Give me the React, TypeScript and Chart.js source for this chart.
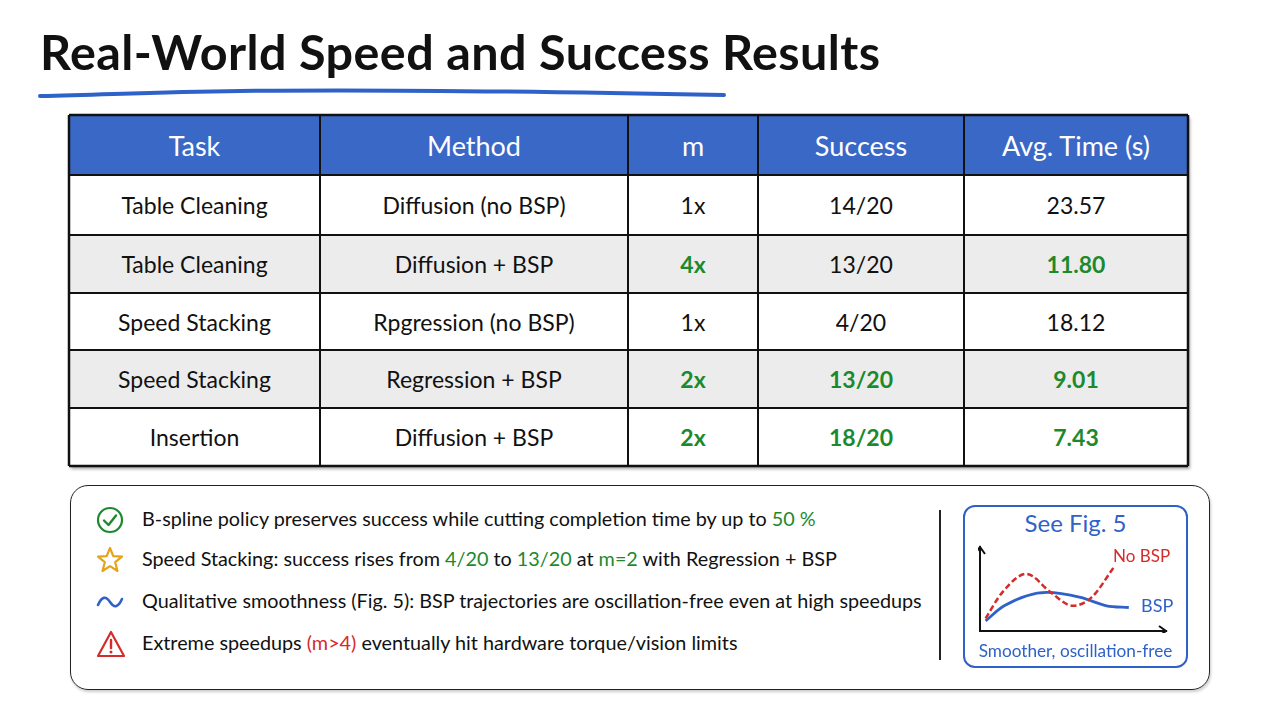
import React, { useEffect, useRef } from "react";
import { Chart, registerables } from "chart.js";

Chart.register(...registerables);

// ---- data ----
const columns = ["Task", "Method", "m", "Success", "Avg. Time (s)"];
const tasks = ["Table Cleaning", "Table Cleaning", "Speed Stacking", "Speed Stacking", "Insertion"];
const methods = ["Diffusion (no BSP)", "Diffusion + BSP", "Rpgression (no BSP)", "Regression + BSP", "Diffusion + BSP"];
const speedups = ["1x", "4x", "1x", "2x", "2x"];
const successes = ["14/20", "13/20", "4/20", "13/20", "18/20"];
const avgTimes = ["23.57", "11.80", "18.12", "9.01", "7.43"];
const speedupGood = [false, true, false, true, true];
const successGood = [false, false, false, true, true];
const timeGood = [false, true, false, true, true];

const bspX = [0.3, 1.3, 3.6, 5.4, 6.8, 8.0];
const bspY = [1.2, 3.0, 4.6, 4.0, 3.0, 2.8];
const noBspX = [0.3, 1.2, 2.5, 3.8, 5.0, 6.0, 7.2];
const noBspY = [1.5, 4.6, 6.8, 4.6, 3.0, 4.0, 7.6];

const FONT = "Lato, 'Open Sans', sans-serif";
const BLUE = "#2f62c8";
const HEADER = "#3a68c6";
const GREEN = "#1c8a2c";
const RED = "#d42b2b";

const arrowPlugin = {
  id: "axisArrows",
  afterDraw(chart: any) {
    const { ctx, chartArea } = chart;
    const { left, right, top, bottom } = chartArea;
    ctx.save();
    ctx.strokeStyle = "#111";
    ctx.lineWidth = 2;
    ctx.beginPath();
    ctx.moveTo(left - 5, top + 7);
    ctx.lineTo(left, top);
    ctx.lineTo(left + 5, top + 7);
    ctx.moveTo(right - 7, bottom - 5);
    ctx.lineTo(right, bottom);
    ctx.lineTo(right - 7, bottom + 5);
    ctx.stroke();
    ctx.restore();
  },
};

function MiniChart() {
  const ref = useRef<HTMLCanvasElement>(null);
  useEffect(() => {
    if (!ref.current) return;
    const chart = new Chart(ref.current, {
      type: "line",
      data: {
        datasets: [
          {
            label: "No BSP",
            data: noBspX.map((x, i) => ({ x, y: noBspY[i] })),
            borderColor: "#d42b2b",
            borderWidth: 2.5,
            borderDash: [6, 3],
            pointRadius: 0,
            cubicInterpolationMode: "monotone",
            fill: false,
          },
          {
            label: "BSP",
            data: bspX.map((x, i) => ({ x, y: bspY[i] })),
            borderColor: "#2f62c8",
            borderWidth: 2.8,
            pointRadius: 0,
            cubicInterpolationMode: "monotone",
            fill: false,
          },
        ],
      },
      options: {
        animation: false,
        responsive: false,
        maintainAspectRatio: false,
        layout: { padding: { top: 2, right: 2, bottom: 2, left: 2 } },
        plugins: { legend: { display: false }, tooltip: { enabled: false } },
        scales: {
          x: {
            type: "linear",
            min: 0,
            max: 10,
            ticks: { display: false },
            grid: { display: false, drawTicks: false },
            border: { display: true, color: "#111", width: 2 },
          },
          y: {
            type: "linear",
            min: 0,
            max: 10,
            ticks: { display: false },
            grid: { display: false, drawTicks: false },
            border: { display: true, color: "#111", width: 2 },
          },
        },
      },
      plugins: [arrowPlugin],
    } as any);
    return () => chart.destroy();
  }, []);
  return (
    <canvas
      ref={ref}
      width={190}
      height={88}
      style={{ position: "absolute", left: 978, top: 545, width: 190, height: 88 }}
    />
  );
}

const colEdges = [69, 320, 628, 758, 964, 1188];
const rowEdges = [115, 175, 235, 293, 350, 408, 466];

function Icon({ kind }: { kind: string }) {
  if (kind === "check")
    return (
      <svg width="30" height="30" viewBox="0 0 30 30">
        <circle cx="15" cy="15" r="12" fill="none" stroke={GREEN} strokeWidth="2.2" />
        <path d="M9 15.5 L13.5 20 L21 10.5" fill="none" stroke={GREEN} strokeWidth="2.4" strokeLinecap="round" strokeLinejoin="round" />
      </svg>
    );
  if (kind === "star")
    return (
      <svg width="30" height="30" viewBox="0 0 30 30">
        <path
          d="M15 3 L18.3 11.2 L27 11.6 L20.2 17.2 L22.5 26 L15 21.1 L7.5 26 L9.8 17.2 L3 11.6 L11.7 11.2 Z"
          fill="none"
          stroke="#e5a21b"
          strokeWidth="2.2"
          strokeLinejoin="round"
        />
      </svg>
    );
  if (kind === "wave")
    return (
      <svg width="30" height="30" viewBox="0 0 30 30">
        <path d="M3 18 C7 9, 11 9, 15 15 C19 21, 23 21, 27 12" fill="none" stroke={BLUE} strokeWidth="2.6" strokeLinecap="round" />
      </svg>
    );
  return (
    <svg width="32" height="30" viewBox="0 0 32 30">
      <path d="M16 3 L29 27 L3 27 Z" fill="none" stroke={RED} strokeWidth="2.2" strokeLinejoin="round" />
      <path d="M16 11 L16 19" stroke={RED} strokeWidth="2.4" strokeLinecap="round" />
      <circle cx="16" cy="23" r="1.5" fill={RED} />
    </svg>
  );
}

const bulletIcons = ["check", "star", "wave", "warn"];
const bulletTops = [520, 560, 602, 644];
const BULLET_FS = 19.8;

export default function App() {
  useEffect(() => {
    document.body.style.margin = "0";
  }, []);

  const cellText = (text: string, good: boolean, x0: number, x1: number, y0: number, y1: number, key: string) => (
    <div
      key={key}
      style={{
        position: "absolute",
        left: x0,
        top: y0,
        width: x1 - x0,
        height: y1 - y0,
        display: "flex",
        alignItems: "center",
        justifyContent: "center",
        fontSize: 23,
        color: good ? GREEN : "#111",
        fontWeight: good ? 700 : 400,
        whiteSpace: "nowrap",
      }}
    >
      {text}
    </div>
  );

  const rows = tasks.map((t, i) => [
    { v: t, g: false },
    { v: methods[i], g: false },
    { v: speedups[i], g: speedupGood[i] },
    { v: successes[i], g: successGood[i] },
    { v: avgTimes[i], g: timeGood[i] },
  ]);

  const bulletStyle = (i: number): React.CSSProperties => ({
    position: "absolute",
    left: 142,
    top: bulletTops[i] - 14,
    fontSize: BULLET_FS,
    color: "#111",
    whiteSpace: "nowrap",
  });

  return (
    <div
      style={{
        position: "fixed",
        left: 0,
        top: 0,
        width: 1280,
        height: 720,
        background: "#fff",
        fontFamily: FONT,
        overflow: "hidden",
      }}
    >
      {/* title */}
      <div
        style={{
          position: "absolute",
          left: 40,
          top: 22,
          fontSize: 48.5,
          fontWeight: 700,
          color: "#111",
          whiteSpace: "nowrap",
          letterSpacing: 0.4,
        }}
      >
        Real-World Speed and Success Results
      </div>
      <svg style={{ position: "absolute", left: 0, top: 0 }} width="1280" height="120">
        <path
          d="M40 96 C120 94, 160 92, 240 91 C380 89, 520 91, 724 95"
          fill="none"
          stroke={BLUE}
          strokeWidth="4"
          strokeLinecap="round"
        />
      </svg>

      {/* table */}
      <div
        style={{
          position: "absolute",
          left: colEdges[0],
          top: rowEdges[0],
          width: colEdges[5] - colEdges[0],
          height: rowEdges[6] - rowEdges[0],
          boxShadow: "2px 3px 3px rgba(0,0,0,0.35)",
        }}
      />
      <div
        style={{
          position: "absolute",
          left: colEdges[0],
          top: rowEdges[0],
          width: colEdges[5] - colEdges[0],
          height: rowEdges[1] - rowEdges[0],
          background: HEADER,
        }}
      />
      {rows.map((_, i) => (
        <div
          key={"bg" + i}
          style={{
            position: "absolute",
            left: colEdges[0],
            top: rowEdges[i + 1],
            width: colEdges[5] - colEdges[0],
            height: rowEdges[i + 2] - rowEdges[i + 1],
            background: i % 2 === 1 ? "#ececec" : "#fff",
          }}
        />
      ))}
      <svg style={{ position: "absolute", left: 0, top: 0 }} width="1280" height="480">
        {rowEdges.map((y, i) => (
          <line key={"h" + i} x1={colEdges[0]} x2={colEdges[5]} y1={y} y2={y} stroke="#111" strokeWidth={i === 0 || i === 6 ? 2.5 : 2} />
        ))}
        {colEdges.map((x, i) => (
          <line key={"v" + i} x1={x} x2={x} y1={rowEdges[0]} y2={rowEdges[6]} stroke="#111" strokeWidth={i === 0 || i === 5 ? 2.5 : 2} />
        ))}
      </svg>
      {columns.map((c, j) => (
        <div
          key={"hd" + j}
          style={{
            position: "absolute",
            left: colEdges[j],
            top: rowEdges[0],
            width: colEdges[j + 1] - colEdges[j],
            height: rowEdges[1] - rowEdges[0],
            display: "flex",
            alignItems: "center",
            justifyContent: "center",
            fontSize: 27,
            color: "#fff",
            fontWeight: 400,
            whiteSpace: "nowrap",
          }}
        >
          {c}
        </div>
      ))}
      {rows.map((r, i) =>
        r.map((c, j) => cellText(c.v, c.g, colEdges[j], colEdges[j + 1], rowEdges[i + 1], rowEdges[i + 2], `c${i}-${j}`))
      )}

      {/* bottom box */}
      <div
        style={{
          position: "absolute",
          left: 70,
          top: 485,
          width: 1140,
          height: 205,
          border: "1.5px solid #222",
          borderRadius: 18,
          boxSizing: "border-box",
          boxShadow: "1px 2px 3px rgba(0,0,0,0.2)",
        }}
      />
      {bulletIcons.map((k, i) => (
        <div key={"ic" + i} style={{ position: "absolute", left: 95, top: bulletTops[i] - 15 }}>
          <Icon kind={k} />
        </div>
      ))}
      <div style={bulletStyle(0)}>
        B-spline policy preserves success while cutting completion time by up to <span style={{ color: GREEN }}>50 %</span>
      </div>
      <div style={bulletStyle(1)}>
        Speed Stacking: success rises from <span style={{ color: GREEN }}>4/20</span> to{" "}
        <span style={{ color: GREEN }}>13/20</span> at <span style={{ color: GREEN }}>m=2</span> with Regression + BSP
      </div>
      <div style={bulletStyle(2)}>
        Qualitative smoothness (Fig. 5): BSP trajectories are oscillation-free even at high speedups
      </div>
      <div style={bulletStyle(3)}>
        Extreme speedups <span style={{ color: RED }}>(m&gt;4)</span> eventually hit hardware torque/vision limits
      </div>
      <div style={{ position: "absolute", left: 939, top: 510, width: 2, height: 150, background: "#222" }} />

      {/* inset */}
      <div
        style={{
          position: "absolute",
          left: 963,
          top: 505,
          width: 225,
          height: 163,
          border: `2px solid ${BLUE}`,
          borderRadius: 12,
          boxSizing: "border-box",
        }}
      />
      <div style={{ position: "absolute", left: 963, top: 508, width: 225, textAlign: "center", fontSize: 24, color: BLUE }}>
        See Fig. 5
      </div>
      <MiniChart />
      <div style={{ position: "absolute", left: 1113, top: 545, fontSize: 17, color: RED }}>No BSP</div>
      <div style={{ position: "absolute", left: 1141, top: 594, fontSize: 18, color: BLUE }}>BSP</div>
      <div style={{ position: "absolute", left: 963, top: 640, width: 225, textAlign: "center", fontSize: 17.2, color: BLUE, whiteSpace: "nowrap" }}>
        Smoother, oscillation-free
      </div>
    </div>
  );
}
